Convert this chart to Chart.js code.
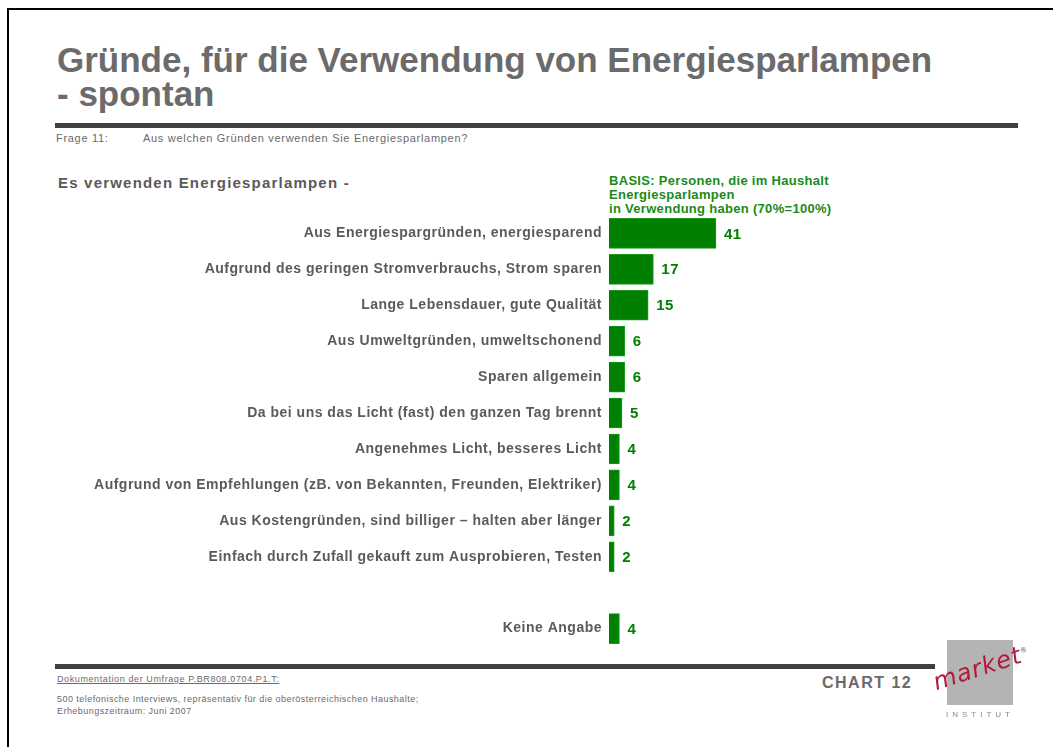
<!DOCTYPE html>
<html>
<head>
<meta charset="utf-8">
<script src="https://cdn.jsdelivr.net/npm/chart.js@4"></script>
<style>
  body { margin: 0; background: #fff; font-family: "Liberation Sans", Arial, sans-serif; }
  #seite { position: relative; width: 1053px; height: 747px; overflow: hidden; }
  .abs { position: absolute; white-space: nowrap; }
  #rahmen { position: absolute; left: 7px; top: 8px; width: 1060px; height: 760px; border-left: 2px solid #000; border-top: 2px solid #000; }
  #titel { left: 57px; top: 43px; font-size: 35px; font-weight: bold; color: #6b6b6b; line-height: 34px; }
  .balken { position: absolute; background: #404040; height: 5px; }
  .klein { font-size: 11px; color: #6a6a6a; letter-spacing: 0.7px; }
  .fuss { font-size: 9px; color: #6a6a6a; letter-spacing: 0.45px; }
  #untertitel { left: 58px; top: 174px; font-size: 15px; font-weight: bold; color: #5a5a5a; letter-spacing: 1.2px; }
  #basis { left: 609px; top: 174px; font-size: 13px; font-weight: bold; color: #1a8a1a; line-height: 14px; letter-spacing: 0.3px; }
  #chart12 { left: 822px; top: 674px; font-size: 16px; font-weight: bold; color: #6a6a6a; letter-spacing: 1.5px; }
  #logo { position: absolute; left: 947px; top: 640px; width: 66px; height: 65px; background: #b4b4b4; }
  #market { left: 938px; top: 668px; font-size: 24px; font-style: italic; color: #b5173d; letter-spacing: 1px; transform: rotate(-18deg); transform-origin: left bottom; font-family: "DejaVu Sans", sans-serif; }
  #market sup { font-size: 7px; color: #555; font-style: normal; }
  #institut { left: 946px; top: 710px; font-size: 8px; color: #8a8a8a; letter-spacing: 4px; }
  canvas { position: absolute; left: 0; top: 200px; }
</style>
</head>
<body>
<div id="seite">
  <div id="rahmen"></div>
  <div id="titel" class="abs">Gründe, für die Verwendung von Energiesparlampen<br>- spontan</div>
  <div class="balken" style="left:55px; top:123px; width:963px;"></div>
  <div class="abs klein" style="left:56px; top:132px;">Frage 11:</div>
  <div class="abs klein" style="left:143px; top:132px;">Aus welchen Gründen verwenden Sie Energiesparlampen?</div>
  <div id="untertitel" class="abs">Es verwenden Energiesparlampen -</div>
  <div id="basis" class="abs">BASIS: Personen, die im Haushalt<br>Energiesparlampen<br>in Verwendung haben (70%=100%)</div>

  <canvas id="grafico" width="1053" height="462"></canvas>

  <div class="balken" style="left:55px; top:664px; width:880px;"></div>
  <div class="abs fuss" style="left:57px; top:674px; letter-spacing:0.6px; text-decoration:underline;">Dokumentation der Umfrage P.BR808.0704.P1.T:</div>
  <div class="abs fuss" style="left:57px; top:694px;">500 telefonische Interviews, repräsentativ für die oberösterreichischen Haushalte;</div>
  <div class="abs fuss" style="left:57px; top:706px;">Erhebungszeitraum: Juni 2007</div>
  <div id="chart12" class="abs">CHART 12</div>
  <div id="logo"></div>
  <div id="market" class="abs">market<sup>®</sup></div>
  <div id="institut" class="abs">INSTITUT</div>
</div>

<script>
const gruende = [
  "Aus Energiespargründen, energiesparend",
  "Aufgrund des geringen Stromverbrauchs, Strom sparen",
  "Lange Lebensdauer, gute Qualität",
  "Aus Umweltgründen, umweltschonend",
  "Sparen allgemein",
  "Da bei uns das Licht (fast) den ganzen Tag brennt",
  "Angenehmes Licht, besseres Licht",
  "Aufgrund von Empfehlungen (zB. von Bekannten, Freunden, Elektriker)",
  "Aus Kostengründen, sind billiger – halten aber länger",
  "Einfach durch Zufall gekauft zum Ausprobieren, Testen",
  "",
  "Keine Angabe"
];
const prozent = [41, 17, 15, 6, 6, 5, 4, 4, 2, 2, null, 4];

const gruen = "#008000";

// etwas Buchstabenabstand wie im Original
const abstand = {
  id: "abstand",
  beforeDraw(chart) { chart.ctx.letterSpacing = "0.5px"; }
};

// Werte rechts neben die Balken schreiben
const werteLabels = {
  id: "werteLabels",
  afterDatasetsDraw(chart) {
    const ctx = chart.ctx;
    const meta = chart.getDatasetMeta(0);
    ctx.save();
    ctx.letterSpacing = "0.5px";
    ctx.font = "bold 15px 'Liberation Sans', Arial, sans-serif";
    ctx.fillStyle = gruen;
    ctx.textBaseline = "middle";
    meta.data.forEach((bar, i) => {
      if (prozent[i] === null) return;
      ctx.fillText(prozent[i], bar.x + 8, bar.y + 1);
    });
    ctx.restore();
  }
};

const ctx = document.getElementById("grafico").getContext("2d");
new Chart(ctx, {
  type: "bar",
  data: {
    labels: gruende,
    datasets: [{
      data: prozent,
      backgroundColor: gruen,
      borderColor: "#1c9a1c",
      borderWidth: 1,
      barThickness: 30
    }]
  },
  options: {
    indexAxis: "y",
    responsive: false,
    animation: false,
    layout: { padding: { left: 0, right: 183, top: 0, bottom: 0 } },
    scales: {
      x: { display: false, min: 0, max: 100 },
      y: {
        grid: { display: false, drawTicks: false },
        border: { display: false },
        ticks: {
          padding: 7,
          color: "#5a5a5a",
          font: { family: "'Liberation Sans', Arial, sans-serif", size: 14, weight: "bold" }
        },
        afterFit(scale) { scale.width = 609; }
      }
    },
    plugins: { legend: { display: false }, tooltip: { enabled: false } }
  },
  plugins: [abstand, werteLabels]
});
</script>
</body>
</html>
